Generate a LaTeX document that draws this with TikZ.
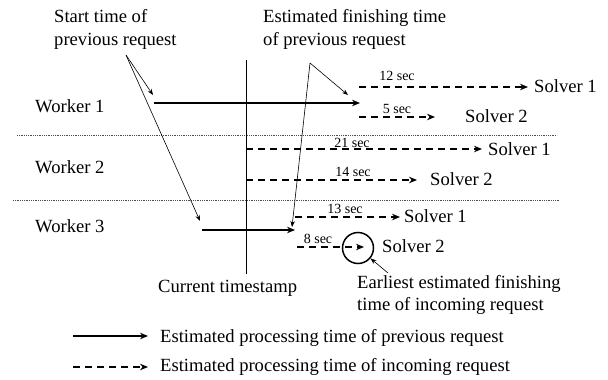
\documentclass[tikz,border=0pt]{standalone}
\usepackage{fontspec}
\setmainfont{Liberation Serif}
\usetikzlibrary{arrows.meta}
\begin{document}
\begin{tikzpicture}[x=1pt,y=-1pt,
  txt/.style={inner sep=0pt,anchor=base west,font=\fontsize{18.6}{22}\selectfont},
  small/.style={inner sep=0pt,anchor=base,font=\fontsize{14}{16}\selectfont},
  prev/.style={line width=1.8pt,-{Stealth[length=8pt,width=6.5pt]}},
  incoming/.style={line width=1.4pt,dash pattern=on 7pt off 5pt,-{Stealth[length=8pt,width=6.5pt]}},
  pointer/.style={line width=0.6pt,-{Stealth[length=6pt,width=4.5pt]}},
  separator/.style={line width=0.8pt,densely dotted,black!70}]
\useasboundingbox (0,0) rectangle (608,380);

% annotation texts
\node[txt] (st1) at (54,23) {Start time of};
\node[txt] (st2) at (54,45) {previous request};
\node[txt] (ef1) at (263,23) {Estimated finishing time};
\node[txt] (ef2) at (263,45) {of previous request};

% worker labels
\node[txt] (w1) at (35,112) {Worker 1};
\node[txt] (w2) at (35,173) {Worker 2};
\node[txt] (w3) at (35,232) {Worker 3};

% row separators
\coordinate (d1a) at (17,135); \coordinate (d1b) at (557,135);
\coordinate (d2a) at (13,200); \coordinate (d2b) at (560,200);
\draw[separator] (d1a) -- (d1b);
\draw[separator] (d2a) -- (d2b);

% current timestamp
\coordinate (nowtop) at (246,60);
\coordinate (nowbot) at (246,274);
\draw[line width=1pt] (nowtop) -- (nowbot);
\node[txt] (now) at (158,292) {Current timestamp};

% previous requests
\coordinate (p1a) at (154,103); \coordinate (p1b) at (360,103);
\coordinate (p3a) at (202,230); \coordinate (p3b) at (295,230);
\draw[prev] (p1a) -- (p1b);
\draw[prev] (p3a) -- (p3b);

% worker 1 incoming
\coordinate (a11) at (359,87); \coordinate (b11) at (528,87);
\coordinate (a12) at (359,117); \coordinate (b12) at (435,117);
\draw[incoming] (a11) -- (b11);
\draw[incoming] (a12) -- (b12);
\node[txt] (s11) at (534,92) {Solver 1};
\node[txt] (s12) at (465,122) {Solver 2};
\node[small] (t11) at (397,80) {12 sec};
\node[small] (t12) at (397,113) {5 sec};

% worker 2 incoming
\coordinate (a21) at (246,149); \coordinate (b21) at (482,149);
\coordinate (a22) at (246,180); \coordinate (b22) at (417,180);
\draw[incoming] (a21) -- (b21);
\draw[incoming] (a22) -- (b22);
\node[txt] (s21) at (488,155) {Solver 1};
\node[txt] (s22) at (430,185) {Solver 2};
\node[small] (t21) at (352,147) {21 sec};
\node[small] (t22) at (353,176) {14 sec};

% worker 3 incoming
\coordinate (a31) at (295,217); \coordinate (b31) at (400,217);
\coordinate (a32) at (297,247); \coordinate (b32) at (364,247);
\draw[incoming] (a31) -- (b31);
\draw[incoming] (a32) -- (b32);
\node[txt] (s31) at (404,222) {Solver 1};
\node[txt] (s32) at (382,252) {Solver 2};
\node[small] (t31) at (345,213) {13 sec};
\node[small] (t32) at (318,243) {8 sec};

% earliest finishing time marker
\node[circle,draw,line width=1.5pt,minimum size=31pt,inner sep=0pt] (best) at (358,248) {};
\node[txt] (ea1) at (357,288) {Earliest estimated finishing};
\node[txt] (ea2) at (357,310) {time of incoming request};
\coordinate (eatail) at (388,273);
\draw[pointer] (eatail) -- (best);

% pointers from the annotations
\coordinate (stapex) at (126,55);
\coordinate (st1tip) at (153,95);
\coordinate (st3tip) at (200,221);
\draw[pointer] (stapex) -- (st1tip);
\draw[pointer] (stapex) -- (st3tip);
\coordinate (efapex) at (310,63);
\coordinate (ef1tip) at (348,95);
\coordinate (ef3tip) at (292,227);
\draw[pointer] (efapex) -- (ef1tip);
\draw[pointer] (efapex) -- (ef3tip);

% legend
\coordinate (l1a) at (73,336); \coordinate (l1b) at (148,336);
\coordinate (l2a) at (73,367); \coordinate (l2b) at (148,367);
\draw[prev,line width=1.2pt] (l1a) -- (l1b);
\draw[incoming,line width=1.2pt] (l2a) -- (l2b);
\node[txt] (lg1) at (160,342) {Estimated processing time of previous request};
\node[txt] (lg2) at (160,371) {Estimated processing time of incoming request};
\end{tikzpicture}
\end{document}
